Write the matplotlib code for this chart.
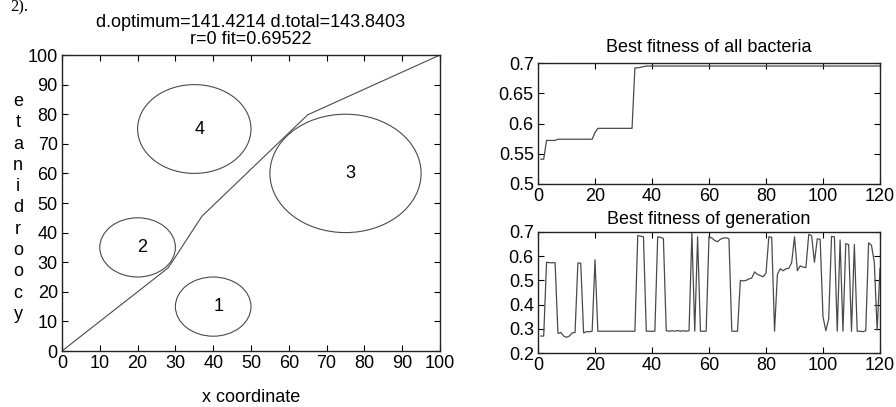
import matplotlib
matplotlib.use("Agg")
import matplotlib.pyplot as plt
from matplotlib.patches import Circle

plt.rcParams['font.family'] = ['Liberation Sans', 'DejaVu Sans']
plt.rcParams['font.size'] = 13

# ---- Left panel data ----
circle_labels = ['1', '2', '3', '4']
circle_x = [40, 20, 75, 35]
circle_y = [15, 35, 60, 75]
circle_r = [10, 10, 20, 15]
path_x = [0, 28, 29.5, 37, 65, 100]
path_y = [0, 28, 30.8, 45.5, 79.8, 100]
left_title = "d.optimum=141.4214 d.total=143.8403\nr=0 fit=0.69522"

# ---- Right panels data ----
generations = list(range(1, 121))
best_all = [
    0.541, 0.541, 0.572, 0.572, 0.572, 0.572, 0.574, 0.574, 0.574, 0.574,
    0.574, 0.574, 0.574, 0.574, 0.574, 0.574, 0.574, 0.574, 0.574, 0.585,
    0.592, 0.592, 0.592, 0.592, 0.592, 0.592, 0.592, 0.592, 0.592, 0.592,
    0.592, 0.592, 0.592, 0.692, 0.692, 0.693, 0.694, 0.695, 0.695, 0.695,
    0.695, 0.695, 0.695, 0.695, 0.695, 0.695, 0.695, 0.695, 0.695, 0.695,
    0.695, 0.695, 0.695, 0.695, 0.695, 0.695, 0.695, 0.695, 0.695, 0.695,
    0.695, 0.695, 0.695, 0.695, 0.695, 0.695, 0.695, 0.695, 0.695, 0.695,
    0.695, 0.695, 0.695, 0.695, 0.695, 0.695, 0.695, 0.695, 0.695, 0.695,
    0.695, 0.695, 0.695, 0.695, 0.695, 0.695, 0.695, 0.695, 0.695, 0.695,
    0.695, 0.695, 0.695, 0.695, 0.695, 0.695, 0.695, 0.695, 0.695, 0.695,
    0.695, 0.695, 0.695, 0.695, 0.695, 0.695, 0.695, 0.695, 0.695, 0.695,
    0.695, 0.695, 0.695, 0.695, 0.695, 0.695, 0.695, 0.695, 0.695, 0.695,
]
best_gen = [
    0.270, 0.270, 0.575, 0.573, 0.573, 0.573, 0.281, 0.285, 0.270, 0.265,
    0.270, 0.283, 0.285, 0.572, 0.571, 0.283, 0.288, 0.288, 0.290, 0.585,
    0.290, 0.290, 0.290, 0.290, 0.290, 0.290, 0.290, 0.290, 0.290, 0.290,
    0.290, 0.290, 0.290, 0.290, 0.685, 0.683, 0.680, 0.290, 0.290, 0.290,
    0.290, 0.680, 0.678, 0.673, 0.292, 0.290, 0.292, 0.290, 0.293, 0.290,
    0.292, 0.290, 0.292, 0.695, 0.290, 0.680, 0.290, 0.290, 0.290, 0.680,
    0.675, 0.665, 0.660, 0.670, 0.675, 0.676, 0.672, 0.290, 0.290, 0.290,
    0.500, 0.498, 0.500, 0.506, 0.510, 0.535, 0.525, 0.520, 0.515, 0.530,
    0.680, 0.678, 0.290, 0.525, 0.548, 0.540, 0.548, 0.550, 0.573, 0.680,
    0.540, 0.560, 0.555, 0.553, 0.690, 0.685, 0.575, 0.672, 0.670, 0.350,
    0.292, 0.340, 0.682, 0.680, 0.290, 0.667, 0.290, 0.652, 0.648, 0.290,
    0.648, 0.290, 0.290, 0.288, 0.292, 0.655, 0.645, 0.575, 0.295, 0.550,
]
top_title = "Best fitness of all bacteria"
bottom_title = "Best fitness of generation"

W, H = 896, 407
fig = plt.figure(figsize=(W / 100, H / 100), dpi=100)


def box(l, t, r, b):
    return [l / W, 1 - b / H, (r - l) / W, (b - t) / H]


line_c = '#4a4a4a'


def style(ax):
    ax.tick_params(direction='in', length=4, width=0.8, top=True, right=True,
                   labelsize=13, pad=3)
    for s in ax.spines.values():
        s.set_linewidth(1.0)
        s.set_color('#222222')


# Left panel
axL = fig.add_axes(box(62, 55, 440, 351))
for cx, cy, r, lab in zip(circle_x, circle_y, circle_r, circle_labels):
    axL.add_patch(Circle((cx, cy), r, fill=False, ec=line_c, lw=0.8))
    axL.text(cx, cy, lab, ha='left', va='center', fontsize=13)
axL.plot(path_x, path_y, color=line_c, lw=0.8)
axL.set_xlim(0, 100)
axL.set_ylim(0, 100)
axL.set_xticks(range(0, 101, 10))
axL.set_yticks(range(0, 101, 10))
style(axL)
axL.set_title(left_title, fontsize=13, pad=8, linespacing=1.0)
fig.text(251 / W, 1 - 397 / H, 'x coordinate', ha='center', va='center', fontsize=13)
fig.text(18 / W, 1 - 208 / H, '\n'.join('ycoordinate'[::-1]), ha='center',
         va='center', fontsize=13, linespacing=1.33)
fig.text(10 / W, 1 - 11.5 / H, '2).', va='baseline', ha='left', fontsize=12,
         family=['Liberation Serif', 'DejaVu Serif'])

# Right top panel
axT = fig.add_axes(box(538, 63, 880, 184))
axT.plot(generations, best_all, color=line_c, lw=0.9)
axT.set_xlim(0, 120)
axT.set_ylim(0.5, 0.7)
axT.set_xticks(range(0, 121, 20))
axT.set_yticks([0.5, 0.55, 0.6, 0.65, 0.7])
axT.set_yticklabels(['0.5', '0.55', '0.6', '0.65', '0.7'])
style(axT)
axT.set_title(top_title, fontsize=13, pad=8)

# Right bottom panel
axB = fig.add_axes(box(538, 232, 880, 353))
axB.plot(generations, best_gen, color=line_c, lw=0.9)
axB.set_xlim(0, 120)
axB.set_ylim(0.2, 0.7)
axB.set_xticks(range(0, 121, 20))
axB.set_yticks([0.2, 0.3, 0.4, 0.5, 0.6, 0.7])
axB.set_yticklabels(['0.2', '0.3', '0.4', '0.5', '0.6', '0.7'])
style(axB)
axB.set_title(bottom_title, fontsize=13, pad=6)

fig.savefig('out.png', dpi=100)
